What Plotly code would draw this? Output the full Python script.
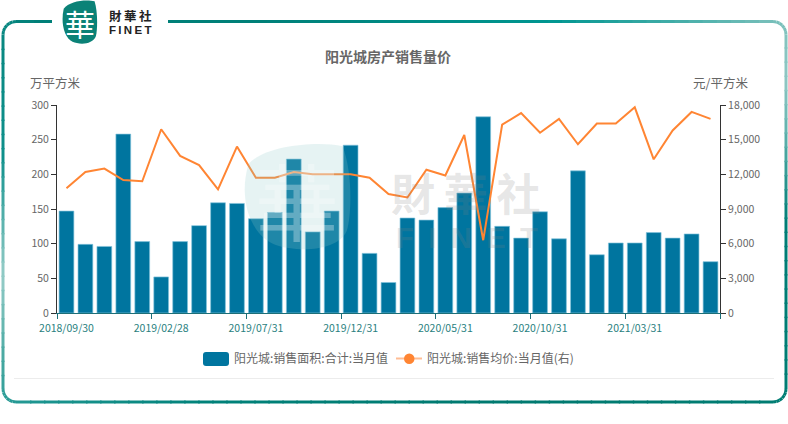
import math
import plotly.graph_objects as go

dates = ["2018/09/30","2018/10/31","2018/11/30","2018/12/31","2019/01/31","2019/02/28","2019/03/31","2019/04/30","2019/05/31","2019/06/30","2019/07/31","2019/08/31","2019/09/30","2019/10/31","2019/11/30","2019/12/31","2020/01/31","2020/02/29","2020/03/31","2020/04/30","2020/05/31","2020/06/30","2020/07/31","2020/08/31","2020/09/30","2020/10/31","2020/11/30","2020/12/31","2021/01/31","2021/02/28","2021/03/31","2021/04/30","2021/05/31","2021/06/30","2021/07/31"]
area = [147,99,96,258,103,52,103,126,159,158,136,145,222,117,147,242,86,44,137,134,152,173,283,125,108,146,107,205,84,101,101,116,108,114,74]
price = [10800,12200,12500,11500,11400,15900,13600,12800,10700,14400,11700,11700,12200,12000,12000,12000,11700,10300,10000,12400,11900,15400,6300,16300,17300,15600,16800,14600,16400,16400,17800,13300,15800,17400,16800]
left_ticks = [0,50,100,150,200,250,300]
right_ticks = [0,3000,6000,9000,12000,15000,18000]
label_every = 5
name_a = "阳光城:销售面积:合计:当月值"
name_b = "阳光城:销售均价:当月值(右)"
title = "阳光城房产销售量价"

W, H = 788, 424
L, R, T, B = 57, 720, 105, 313
FONT = "Noto Sans CJK SC"
px = lambda x: (x - L) / (R - L)
py = lambda y: (B - y) / (B - T)

idx = list(range(len(dates)))
tick_idx = idx[::label_every]
fig = go.Figure()
fig.add_bar(x=idx, y=area, name=name_a, width=0.78, customdata=dates,
            marker=dict(color="#00759f", line=dict(color="rgba(130,195,220,0.65)", width=1)),
            xaxis="x", yaxis="y")
fig.add_scatter(x=idx, y=price, name=name_b, mode="lines", customdata=dates,
                line=dict(color="#ff8533", width=2), xaxis="x2", yaxis="y2")

shapes = []
# gradient frame
def outline():
    l, r, t, b, c = 3, 786, 21.5, 402, 13
    pts = [(52, t), (c + l, t)]
    arc = lambda cx, cy, a0, a1: [(cx + c * math.cos(math.radians(a0 + (a1 - a0) * i / 6)),
                                   cy + c * math.sin(math.radians(a0 + (a1 - a0) * i / 6))) for i in range(1, 7)]
    pts += arc(l + c, t + c, 270, 180)
    pts += [(l, b - c)] + arc(l + c, b - c, 180, 90)
    pts += [(r - c, b)] + arc(r - c, b - c, 90, 0)
    pts += [(r, t + c)] + arc(r - c, t + c, 360, 270)
    pts += [(168, t)]
    return pts

stops = [(0, (0,127,120)), (40, (8,135,128)), (170, (15,145,140)), (290, (150,205,200)), (370, (75,170,163)),
         (440, (30,150,145)), (620, (0,130,122)), (900, (0,122,112)), (1180, (0,125,115)), (1370, (0,125,118)),
         (1460, (100,180,175)), (1510, (145,200,196)), (1560, (130,195,190)), (1800, (0,150,145)), (2100, (0,128,120))]
def col(s):
    for (a, ca), (b, cb) in zip(stops, stops[1:]):
        if s <= b:
            f = (s - a) / (b - a)
            return "rgb(%d,%d,%d)" % tuple(ca[i] + (cb[i] - ca[i]) * f for i in range(3))
    return "rgb(0,128,120)"

pts = outline()
s = 0
for (x0, y0), (x1, y1) in zip(pts, pts[1:]):
    d = math.hypot(x1 - x0, y1 - y0)
    n = max(1, int(d / 14))
    for i in range(n):
        ax, ay = x0 + (x1 - x0) * i / n, y0 + (y1 - y0) * i / n
        f = min(1, (i + 1.1) / n)
        bx, by = x0 + (x1 - x0) * f, y0 + (y1 - y0) * f
        shapes.append(dict(type="line", xref="paper", yref="paper", x0=px(ax), y0=py(ay), x1=px(bx), y1=py(by),
                           line=dict(color=col(s + d * i / n), width=3), layer="below"))
    s += d

# footer rule
shapes.append(dict(type="line", xref="paper", yref="paper", x0=px(14), x1=px(774), y0=py(378.5), y1=py(378.5),
                   line=dict(color="#ececec", width=1), layer="below"))

def blob(x0, x1, y0, y1):
    w, h = x1 - x0, y1 - y0
    P = lambda a, b: f"{px(x0 + a * w):.5f},{py(y0 + b * h):.5f}"
    return ("M" + P(.05, .2) + " C" + P(.2, .02) + " " + P(.7, -.02) + " " + P(.93, .03) +
            " C" + P(1.02, .25) + " " + P(1.02, .65) + " " + P(.97, .82) +
            " C" + P(.88, 1.02) + " " + P(.5, 1.02) + " " + P(.3, .95) +
            " C" + P(.05, .85) + " " + P(-.04, .5) + " " + P(.05, .2) + " Z")

shapes.append(dict(type="path", xref="paper", yref="paper", path=blob(62, 97, 0, 44),
                   fillcolor="#0b8277", line=dict(width=0), layer="below"))
# watermark blob
shapes.append(dict(type="path", xref="paper", yref="paper", path=blob(243, 350, 143, 250),
                   fillcolor="rgba(140,200,200,0.22)", line=dict(width=0), layer="above"))

# legend marks
c0 = dict(xref="paper", yref="paper")
r = 3
x0, x1, y0, y1 = 203, 229, 352, 366
shapes.append(dict(type="path", **c0, fillcolor="#00759f", line=dict(width=0),
    path=f"M{px(x0+r)},{py(y0)} L{px(x1-r)},{py(y0)} Q{px(x1)},{py(y0)} {px(x1)},{py(y0+r)} L{px(x1)},{py(y1-r)} "
         f"Q{px(x1)},{py(y1)} {px(x1-r)},{py(y1)} L{px(x0+r)},{py(y1)} Q{px(x0)},{py(y1)} {px(x0)},{py(y1-r)} "
         f"L{px(x0)},{py(y0+r)} Q{px(x0)},{py(y0)} {px(x0+r)},{py(y0)} Z"))
shapes.append(dict(type="line", **c0, x0=px(396), x1=px(422), y0=py(358.5), y1=py(358.5),
                   line=dict(color="#ffbd94", width=2)))
shapes.append(dict(type="circle", **c0, x0=px(404), x1=px(414.5), y0=py(353.5), y1=py(364),
                   fillcolor="#ff8533", line=dict(width=0)))

def note(text, x, y, size=12, color="#666666", xanchor="center", family=FONT, bold=False, opacity=None):
    d = dict(text=f"<b>{text}</b>" if bold else text, xref="paper", yref="paper", x=px(x), y=py(y),
             showarrow=False, xanchor=xanchor, yanchor="middle", borderpad=0,
             font=dict(size=size, color=color, family=family))
    if opacity is not None:
        d["opacity"] = opacity
    return d

annotations = [
    note(title, 388, 56, 14, "#666666", bold=True),
    note("万平方米", 55.5, 82.5, 12.5),
    note("元/平方米", 720, 82.5, 12.5),
    note(name_a, 233, 357.5, 12, xanchor="left"),
    note(name_b, 426, 357.5, 12, xanchor="left"),
    note("華", 80, 23, 30, "#ffffff"),
    note("財\u2009華\u2009社", 108, 15.5, 12.5, "#222222", xanchor="left", bold=True),
    note("F\u2009I\u2009N\u2009E\u2009T", 108, 30, 11.5, "#222222", xanchor="left", family="Liberation Sans", bold=True),
    note("華", 297, 198, 84, "#ffffff", opacity=0.3),
    note("財\u2009華\u2009社", 466, 192, 44, "rgba(130,130,130,0.2)", bold=True),
    note("F\u2002I\u2002N\u2002E\u2002T", 467, 238, 29, "rgba(130,130,130,0.2)", family="Liberation Sans", bold=True),
]

axis_font = dict(size=10.5, color="#666666", family=FONT)
fig.update_layout(
    width=W, height=H, autosize=False, showlegend=False,
    paper_bgcolor="#ffffff", plot_bgcolor="rgba(0,0,0,0)",
    margin=dict(l=L, r=W - R, t=T, b=H - B, pad=0),
    bargap=0.2, shapes=shapes, annotations=annotations,
    font=dict(family=FONT),
    xaxis=dict(range=[-0.5, 34.5], tickmode="array", tickvals=tick_idx, ticktext=[dates[i] for i in tick_idx],
               ticks="", showgrid=False, zeroline=False, showline=True, linecolor="#1d6f78", linewidth=1,
               tickfont=dict(size=10.5, color="#2a7f80", family=FONT), tickangle=0, ticklabelstandoff=5),
    xaxis2=dict(range=[-0.5, 34.5], overlaying="x", anchor="y", side="bottom", tickmode="array",
                tickvals=[i - 0.5 for i in idx[::label_every]] + [34.5], showticklabels=False,
                ticks="outside", ticklen=5, tickcolor="#1d6f78", tickwidth=1, showgrid=False, zeroline=False),
    yaxis=dict(range=[0, 300], tickmode="array", tickvals=left_ticks, ticks="outside", ticklen=5, tickcolor="#333333",
               showgrid=False, zeroline=False, showline=True, linecolor="#333333", linewidth=1, tickfont=axis_font),
    yaxis2=dict(range=[0, 18000], tickmode="array", tickvals=right_ticks, overlaying="y", side="right", anchor="x2",
                tickformat=",d", ticks="outside", ticklen=5, tickcolor="#333333", showgrid=False, zeroline=False,
                showline=True, linecolor="#333333", linewidth=1, tickfont=axis_font),
)
fig.write_html("out.html", config={"displayModeBar": False}, post_script="document.body.style.margin='0';")
